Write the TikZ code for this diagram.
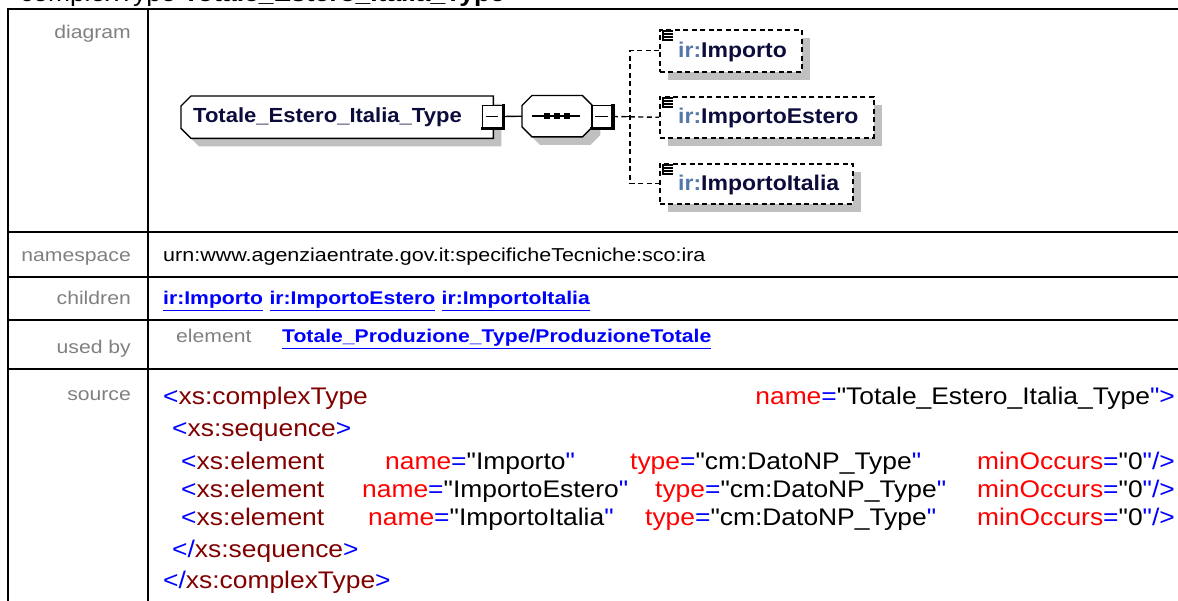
\documentclass[tikz,border=0pt]{standalone}
\usepackage{fontspec}
\setmainfont{Liberation Sans}
\newfontfamily\srcf{Liberation Sans}[FakeStretch=1.1]
\newfontfamily\cnf{Liberation Sans}[FakeStretch=1.15]
\newfontfamily\dgf{Liberation Sans}[FakeStretch=1.08]
\usetikzlibrary{shadows}
\definecolor{xblue}{RGB}{0,0,255}
\definecolor{xdred}{RGB}{128,0,0}
\definecolor{xred}{RGB}{255,0,0}
\definecolor{lblgrey}{RGB}{128,128,128}
\definecolor{shgrey}{RGB}{192,192,192}
\definecolor{dnavy}{RGB}{12,12,60}
\definecolor{pfx}{RGB}{85,120,170}
\newcommand{\tagB}[1]{\textcolor{xblue}{#1}}
\newcommand{\tagD}[1]{\textcolor{xdred}{#1}}
\newcommand{\tagR}[1]{\textcolor{xred}{#1}}
\begin{document}
\begin{tikzpicture}[x=1pt,y=-1pt,
  tline/.style={line width=2pt},
  src/.style={font=\srcf\fontsize{24}{28}\selectfont, inner sep=0pt, anchor=base west},
  srcr/.style={src, anchor=base east},
  lbl/.style={font=\cnf\fontsize{18.4}{22}\selectfont, text=lblgrey, inner sep=0pt, anchor=base east},
  cnt/.style={font=\cnf\fontsize{18.4}{22}\selectfont, inner sep=0pt, anchor=base west},
  lnk/.style={cnt, text=xblue, font=\cnf\fontsize{18.4}{22}\selectfont\bfseries},
  shad/.style={drop shadow={shadow xshift=8pt, shadow yshift=-8pt, fill=shgrey, opacity=1}},
  box/.style={rectangle, inner sep=0pt, anchor=north west},
  elem/.style={box, draw=black, line width=1.6pt, dash pattern=on 5pt off 3.5pt, fill=white, shad},
  etext/.style={font=\dgf\fontsize{21.3}{25}\selectfont\bfseries, inner sep=0pt, anchor=west},
  minusbox/.style={rectangle, draw=black, line width=1.6pt, fill=white, minimum width=20pt, minimum height=22pt, inner sep=0pt},
  conn/.style={line width=1.4pt},
  dconn/.style={line width=1.4pt, dash pattern=on 5pt off 3.5pt},
  octo/.style={draw=black, line width=1.4pt, fill=white, shad}
]
\useasboundingbox (0,0) rectangle (1178,601);
\clip (0,0) rectangle (1178,601);

% title (cut off at top)
\node[src] (title) at (20,2) {complexType \textbf{Totale\_Estero\_Italia\_Type}};

% table grid
\draw[tline] (8,9) -- (1180,9);
\draw[tline] (8,232) -- (1180,232);
\draw[tline] (8,277) -- (1180,277);
\draw[tline] (8,320) -- (1180,320);
\draw[tline] (8,369) -- (1180,369);
\draw[tline] (8,8) -- (8,605);
\draw[tline] (148,8) -- (148,605);

% labels
\node[lbl] (l1) at (131,39) {diagram};
\node[lbl] (l2) at (131,262) {namespace};
\node[lbl] (l3) at (131,305) {children};
\node[lbl] (l4) at (131,354) {used by};
\node[lbl] (l5) at (131,401) {source};

% ---------- diagram ----------
% main node
\node[box, minimum width=312pt, minimum height=42pt] (main) at (181,96) {};
\filldraw[octo] ([xshift=10pt]main.north west) -- (main.north east) -- (main.south east)
  -- ([xshift=10pt]main.south west) -- ([yshift=10pt]main.south west)
  -- ([yshift=-10pt]main.north west) -- cycle;
\node[etext, font=\dgf\fontsize{20.4}{24}\selectfont\bfseries, text=dnavy] (maint) at ([xshift=12pt]main.west) {Totale\_Estero\_Italia\_Type};
\node[minusbox] (mb1) at (492.5,116.5) {};
\draw[line width=3.5pt] ([yshift=1pt]mb1.north east) -- (mb1.south east) -- ([xshift=-1pt]mb1.south west);
\draw[line width=1.4pt] ([xshift=4pt]mb1.west) -- ([xshift=-5pt]mb1.east);

% sequence node
\node[box, minimum width=70pt, minimum height=41pt] (seq) at (522,95.5) {};
\filldraw[octo] ([xshift=10pt]seq.north west) -- ([xshift=-10pt]seq.north east)
  -- ([yshift=-10pt]seq.north east) -- ([yshift=10pt]seq.south east)
  -- ([xshift=-10pt]seq.south east) -- ([xshift=10pt]seq.south west)
  -- ([yshift=10pt]seq.south west) -- ([yshift=-10pt]seq.north west) -- cycle;
\draw[line width=1.5pt] ([xshift=10pt]seq.west) -- ([xshift=-12pt]seq.east);
\foreach \sx in {547,557,567} \fill (\sx-3,113.5) rectangle (\sx+3,119.5);
\node[minusbox] (mb2) at (602,116.5) {};
\draw[line width=3.5pt] ([yshift=1pt]mb2.north east) -- (mb2.south east) -- ([xshift=-1pt]mb2.south west);
\draw[line width=1.4pt] ([xshift=4pt]mb2.west) -- ([xshift=-5pt]mb2.east);
\draw[conn] (mb1.east) -- (seq.west);

% element nodes
\node[elem, minimum width=142pt, minimum height=42pt] (imp) at (659,29) {};
\node[elem, minimum width=214pt, minimum height=41pt] (est) at (659,96) {};
\node[elem, minimum width=193pt, minimum height=40pt] (ita) at (659,163) {};
\foreach \e in {imp,est,ita}{
  \draw[line width=1.1pt] ([xshift=4pt,yshift=-1pt]\e.north west) -- ([xshift=4pt,yshift=-12pt]\e.north west);
  \foreach \k in {2,5,8,11}
    \draw[line width=1.1pt] ([xshift=5pt,yshift=-\k pt]\e.north west) -- ([xshift=14pt,yshift=-\k pt]\e.north west);
}
\node[etext] (impt) at ([xshift=19pt,yshift=-1pt]imp.west) {\textcolor{pfx}{ir:}\textcolor{dnavy}{Importo}};
\node[etext] (estt) at ([xshift=19pt,yshift=-1pt]est.west) {\textcolor{pfx}{ir:}\textcolor{dnavy}{ImportoEstero}};
\node[etext] (itat) at ([xshift=19pt,yshift=-1pt]ita.west) {\textcolor{pfx}{ir:}\textcolor{dnavy}{ImportoItalia}};

% connectors from sequence to elements
\coordinate (jx) at (630,116.5);
\draw[dconn] (mb2.east) -- (est.west);
\draw[dconn] (imp.west) -- (imp.west -| jx) -- (ita.west -| jx) -- (ita.west);
\draw[line width=1.4pt] ([xshift=-5pt]jx) -- ([xshift=5pt]jx);

% ---------- namespace / children / used by ----------
\node[cnt, font=\cnf\fontsize{18.7}{22}\selectfont] (ns) at (163,262) {urn:www.agenziaentrate.gov.it:specificheTecniche:sco:ira};
\node[lnk] (c1) at (163,305) {\underline{ir:Importo}};
\node[lnk] (c2) at ([xshift=6pt]c1.base east) {\underline{ir:ImportoEstero}};
\node[lnk] (c3) at ([xshift=6pt]c2.base east) {\underline{ir:ImportoItalia}};
\node[cnt, text=lblgrey] (ub1) at (176,343) {element};
\node[lnk] (ub2) at (282,343) {\underline{Totale\_Produzione\_Type/ProduzioneTotale}};

% ---------- source ----------
\node[src] (s1a) at (163,405) {\tagB{<}\tagD{xs:complexType}};
\node[srcr] (s1b) at (1175,405) {\tagR{name}\tagB{=}"Totale\_Estero\_Italia\_Type\tagB{">}};
\node[src] (s2) at (172,436) {\tagB{<}\tagD{xs:sequence}\tagB{>}};
\node[src] (s3a) at (181,469) {\tagB{<}\tagD{xs:element}};
\node[src] (s3b) at (385,469) {\tagR{name}\tagB{=}"Importo\tagB{"}};
\node[src] (s3c) at (630,469) {\tagR{type}\tagB{=}"cm:DatoNP\_Type\tagB{"}};
\node[srcr] (s3d) at (1175,469) {\tagR{minOccurs}\tagB{=}"0\tagB{"/>}};
\node[src] (s4a) at (181,497) {\tagB{<}\tagD{xs:element}};
\node[src] (s4b) at (362,497) {\tagR{name}\tagB{=}"ImportoEstero\tagB{"}};
\node[src] (s4c) at (655,497) {\tagR{type}\tagB{=}"cm:DatoNP\_Type\tagB{"}};
\node[srcr] (s4d) at (1175,497) {\tagR{minOccurs}\tagB{=}"0\tagB{"/>}};
\node[src] (s5a) at (181,525) {\tagB{<}\tagD{xs:element}};
\node[src] (s5b) at (368,525) {\tagR{name}\tagB{=}"ImportoItalia\tagB{"}};
\node[src] (s5c) at (645,525) {\tagR{type}\tagB{=}"cm:DatoNP\_Type\tagB{"}};
\node[srcr] (s5d) at (1175,525) {\tagR{minOccurs}\tagB{=}"0\tagB{"/>}};
\node[src] (s6) at (172,557) {\tagB{</}\tagD{xs:sequence}\tagB{>}};
\node[src] (s7) at (163,588) {\tagB{</}\tagD{xs:complexType}\tagB{>}};
\end{tikzpicture}
\end{document}
